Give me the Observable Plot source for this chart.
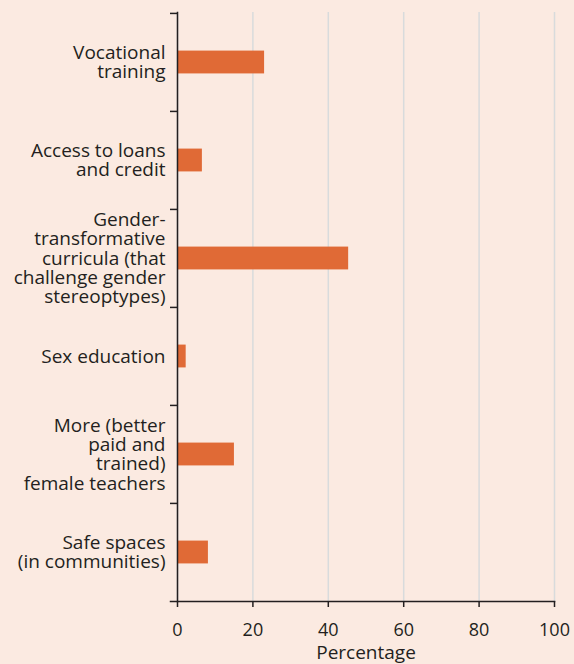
<!DOCTYPE html>
<html><head><meta charset="utf-8">
<script src="https://cdn.jsdelivr.net/npm/d3@7"></script>
<script src="https://cdn.jsdelivr.net/npm/@observablehq/plot@0.6"></script>
<style>
html,body{margin:0;padding:0;background:#fbeae1;}
</style></head><body><div id="chart"></div>
<script>
const categories = [
  "Vocational\ntraining",
  "Access to loans\nand credit",
  "Gender-\ntransformative\ncurricula (that\nchallenge gender\nstereoptypes)",
  "Sex education",
  "More (better\npaid and\ntrained)\nfemale teachers",
  "Safe spaces\n(in communities)"
];
const values = [23.1, 6.6, 45.4, 2.3, 15.1, 8.2];
const xTicks = [0, 20, 40, 60, 80, 100];
const xLabel = "Percentage";

const data = categories.map((c, i) => ({category: c, value: values[i]}));

const width = 574, height = 664, mt = 12, mb = 63, ml = 177, mr = 20;
const bw = (height - mt - mb) / categories.length;
const barH = 23;
const ink = "#231f20";

const chart = Plot.plot({
  width, height,
  marginTop: mt, marginBottom: mb, marginLeft: ml, marginRight: mr,
  style: {background: "#fbeae1", fontFamily: "'Open Sans', sans-serif", fontSize: "19px", color: ink},
  x: {domain: [0, 100]},
  y: {domain: categories, padding: 0},
  marks: [
    Plot.gridX(xTicks, {stroke: "#d8dbdc", strokeOpacity: 1, strokeWidth: 1.5}),
    Plot.barX(data, {x: "value", y: "category", fill: "#e06a36",
      insetTop: (bw - barH) / 2, insetBottom: (bw - barH) / 2}),
    Plot.frame({anchor: "left", stroke: ink, strokeWidth: 1.5}),
    Plot.frame({anchor: "bottom", stroke: ink, strokeWidth: 1.5, insetLeft: -7}),
    Plot.axisY({tickSize: 7, text: null, dy: -bw / 2, stroke: ink, strokeWidth: 1.5, label: null}),
    Plot.axisY({tickSize: 0, tickPadding: 12, fontSize: 19, lineHeight: 1.02, label: null, fill: ink}),
    Plot.axisX(xTicks, {tickSize: 6, tickPadding: 16, stroke: ink, strokeWidth: 1.5, fontSize: 18, fill: ink,
      label: null}),
    Plot.axisX({tickSize: 0, text: null, label: xLabel, labelAnchor: "center", labelArrow: "none",
      labelOffset: 57, fontSize: 19, fill: ink})
  ]
});
document.getElementById("chart").appendChild(chart);
</script>
</body></html>
